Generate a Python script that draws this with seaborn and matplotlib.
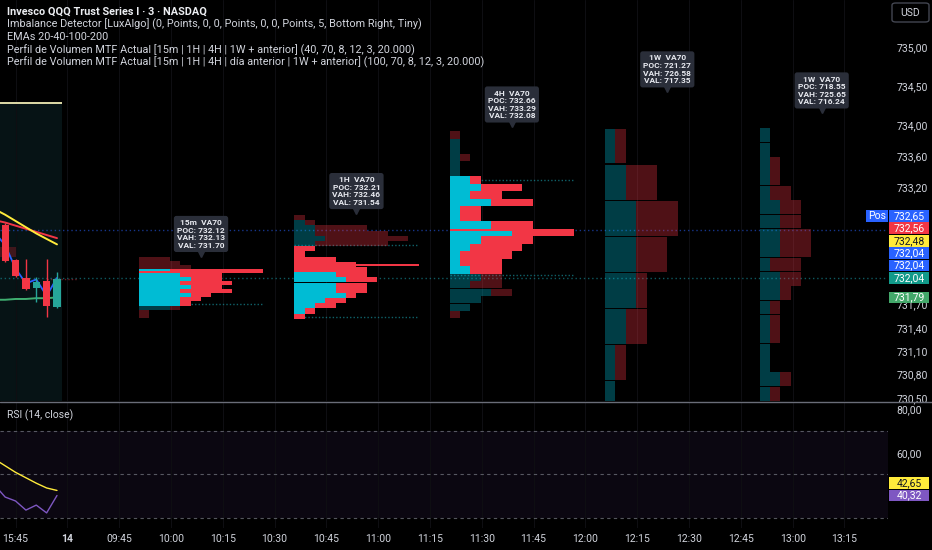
import numpy as np
import pandas as pd
import seaborn as sns
import matplotlib.pyplot as plt
from matplotlib import transforms
from matplotlib.colors import to_rgba
from matplotlib.patches import Rectangle, FancyBboxPatch
from matplotlib.lines import Line2D

# ---- data (bar index: 3m bars, 0 = 09:30 on the 14th) ----
candle_idx = [-6, -5, -4, -3, -2, -1]
c_open = [732.72, 732.27, 732.04, 731.91, 732.00, 731.67]
c_high = [732.74, 732.28, 732.28, 732.05, 732.28, 732.12]
c_low = [732.25, 732.05, 731.89, 731.73, 731.54, 731.65]
c_close = [732.26, 732.06, 731.90, 731.99, 731.68, 732.03]

ema_idx = [-7, -6, -5, -4, -3, -2, -1]
ema_yellow = [732.92, 732.85, 732.77, 732.69, 732.61, 732.54, 732.47]
ema_red = [732.78, 732.75, 732.71, 732.67, 732.63, 732.59, 732.55]
ema_blue = [732.62, 732.46, 732.16, 731.97, 732.02, 731.81, 732.04]
ema_green = [731.76, 731.76, 731.77, 731.77, 731.78, 731.78, 731.79]

rsi_idx = [-7, -6, -5, -4, -3, -2, -1]
rsi_vals = [45.0, 39.6, 37.8, 33.6, 35.9, 32.3, 40.32]
rsi_ma = [57.0, 54.0, 51.0, 48.5, 46.0, 43.8, 42.65]

prof_tf = ['15m', '1H', '4H', '1W', '1W']
prof_base = [6.9, 21.9, 36.9, 51.9, 66.8]
prof_top = [732.31, 732.846, 733.92, 733.96, 733.96]
prof_step = [0.052, 0.0665, 0.096, 0.462, 0.184]
prof_poc = [732.12, 732.21, 732.66, 721.27, 718.55]
prof_vah = [732.13, 732.46, 733.29, 726.58, 725.65]
prof_val = [731.70, 731.54, 732.08, 717.35, 716.24]
prof_tip = [732.31, 732.86, 733.97, 734.42, 734.15]
prof_buy = [
    [0, 0, 0, 3, 4, 5, 4, 5, 4, 5, 4, 4, 3, 0, 0],
    [0, 1, 2, 2, 3, 2, 0, 0, 0, 0, 0, 4, 5, 4, 4, 5, 3, 2, 1, 0],
    [0, 1, 1, 1, 1, 1, 2, 3, 2, 4, 1, 1, 4, 6, 3, 2, 1, 1, 2, 3, 2, 4, 3, 2, 0],
    [1, 2, 3, 3, 3, 2, 1, 1],
    [1, 1, 1, 1, 1, 2, 2, 2, 2, 1, 2, 2, 1, 1, 1, 1, 1, 2, 1],
]
prof_sell = [
    [3, 4, 5, 9, 4, 3, 5, 3, 5, 2, 2, 1, 1, 1, 1],
    [1, 1, 5, 7, 8, 7, 2, 1, 4, 6, 7, 3, 3, 3, 3, 1, 2, 2, 1, 1],
    [1, 0, 0, 1, 0, 0, 1, 4, 3, 4, 2, 2, 4, 6, 5, 5, 5, 4, 3, 2, 3, 2, 0, 0, 1],
    [1, 3, 4, 3, 1, 2, 1, 0],
    [0, 0, 1, 1, 2, 2, 2, 3, 3, 3, 2, 1, 1, 1, 1, 0, 0, 1, 1],
]
profile_width = 12

price_ticks = [735.0, 734.5, 734.0, 733.6, 733.2, 731.7, 731.4, 731.1, 730.8, 730.5]
time_pos = [-5, 0, 5, 10, 15, 20, 25, 30, 35, 40, 45, 50, 55, 60, 65, 70, 75]
time_lbl = ['15:45', '14', '09:45', '10:00', '10:15', '10:30', '10:45', '11:00', '11:15',
            '11:30', '11:45', '12:00', '12:15', '12:30', '12:45', '13:00', '13:15']

# right scale labels, bottom to top
scale_vals = [731.79, 732.04, 732.04, 732.04, 732.48, 732.56, 732.65]
scale_cols = ['#43a86a', '#129a8a', '#2962ff', '#2962ff', '#ffeb3b', '#f23645', '#2962ff']
rsi_lbl_vals = [40.32, 42.65]
rsi_lbl_cols = ['#7e57c2', '#ffeb3b']

pos_price = 732.65
last_line = 732.04
session_high = 734.28
imb_box = (-8, -4.95, 732.31, 732.44)
imb_line = (-2, 1, 732.03)

titles = [
    'Invesco QQQ Trust Series I · 3 · NASDAQ',
    'Imbalance Detector [LuxAlgo] (0, Points, 0, 0, Points, 0, 0, Points, 5, Bottom Right, Tiny)',
    'EMAs 20-40-100-200',
    'Perfil de Volumen MTF Actual [15m | 1H | 4H | 1W + anterior] (40, 70, 8, 12, 3, 20.000)',
    'Perfil de Volumen MTF Actual [15m | 1H | 4H | día anterior | 1W + anterior] (100, 70, 8, 12, 3, 20.000)',
]

# ---- style ----
sns.set_theme(style='dark', rc={'axes.facecolor': '#000000', 'figure.facecolor': '#000000',
                                'savefig.facecolor': '#000000'})
plt.rcParams['font.family'] = ['Roboto', 'DejaVu Sans']
TXT = '#d1d4dc'
CYAN = '#00bcd4'
RED = '#f23645'
TEAL = '#26a69a'
FS = 7.5

W, H = 932, 550
fig = plt.figure(figsize=(W / 100, H / 100), dpi=100)
ax = fig.add_axes([0, (H - 401) / H, 888 / W, 401 / H])
rx = fig.add_axes([0, (H - 528) / H, 888 / W, 126 / H])

xmin, xmax = -6.5, 79.2
ymin, ymax = 730.462, 735.603
ax.set_xlim(xmin, xmax)
ax.set_ylim(ymin, ymax)
rx.set_xlim(xmin, xmax)
rx.set_ylim(25.35, 83.4)

for a in (ax, rx):
    for s in a.spines.values():
        s.set_visible(False)
    a.set_xticks(time_pos)
    a.grid(axis='x', color='#0e0e12', lw=0.8)
    a.grid(axis='y', visible=False)
    a.yaxis.tick_right()
    a.tick_params(axis='y', colors=TXT, labelsize=FS, length=0, pad=6)
    a.tick_params(axis='x', length=0)
ax.tick_params(axis='x', labelbottom=False)
ax.set_yticks(price_ticks)
ax.set_yticklabels([f'{v:.2f}'.replace('.', ',') for v in price_ticks])

# session background + high line
ax.fill_between([xmin - 5, -0.5], ymin, session_high, color='#061315', zorder=0, lw=0)
ax.hlines(session_high, xmin - 5, -0.5, color='#f0ecb4', lw=1.3, zorder=3)

# global dotted lines
ax.axhline(pos_price, color='#2962ff', alpha=0.55, lw=1, ls=(0, (1, 2)), zorder=1)
ax.axhline(last_line, color='#1aa3b0', alpha=0.55, lw=1, ls=(0, (1, 2)), zorder=1)

# imbalance marks
ax.add_patch(Rectangle((imb_box[0], imb_box[2]), imb_box[1] - imb_box[0], imb_box[3] - imb_box[2],
                       color='#5a1a20', alpha=0.7, lw=0, zorder=1))
ax.hlines(imb_line[2], imb_line[0], imb_line[1], color='#6a1c24', lw=1, ls=(0, (1, 1.5)), zorder=1)

# EMAs
sns.lineplot(x=ema_idx, y=ema_green, ax=ax, color='#3fae70', lw=1.4, zorder=4)
sns.lineplot(x=ema_idx, y=ema_red, ax=ax, color='#f23645', lw=1.4, zorder=4)
sns.lineplot(x=ema_idx, y=ema_yellow, ax=ax, color='#ffeb3b', lw=1.4, zorder=4)
sns.lineplot(x=ema_idx, y=ema_blue, ax=ax, color='#2962ff', lw=1.3, zorder=4)

# candles
up = np.array(c_close) >= np.array(c_open)
ccol = [TEAL if u else RED for u in up]
ax.vlines(candle_idx, c_low, c_high, colors=ccol, lw=1, zorder=5)
ax.bar(candle_idx, np.array(c_close) - np.array(c_open), bottom=c_open, width=0.7,
       color=ccol, lw=0, zorder=5)

# volume profiles
for p in range(len(prof_tf)):
    buy = np.array(prof_buy[p], float)
    sell = np.array(prof_sell[p], float)
    step = prof_step[p]
    cen = prof_top[p] - (np.arange(len(buy)) + 0.5) * step
    tol = step / 4
    inva = (cen >= prof_val[p] - tol) & (cen <= prof_vah[p] + tol)
    alpha = np.where(inva, 1.0, 0.33)
    bcol = [to_rgba(CYAN, a_) for a_ in alpha]
    scol = [to_rgba(RED, a_) for a_ in alpha]
    base = prof_base[p]
    bh = step * (0.96 if step > 0.15 else 0.99)
    for lvl in (prof_vah[p], prof_val[p]):
        if ymin < lvl < ymax:
            ax.hlines(lvl, base, base + profile_width, color='#1aa3b0', alpha=0.6, lw=1,
                      ls=(0, (1, 1.5)), zorder=1)
    ax.barh(cen, buy, left=base, height=bh, color=bcol, lw=0, zorder=2)
    ax.barh(cen, sell, left=base + buy, height=bh, color=scol, lw=0, zorder=2)
    if cen[-1] < prof_poc[p] < cen[0]:
        ax.barh(prof_poc[p], profile_width, left=base, height=0.025, color=RED, lw=0, zorder=2)

    xc = base + 6
    txt = (f'{prof_tf[p]}  VA70\nPOC: {prof_poc[p]:.2f}\n'
           f'VAH: {prof_vah[p]:.2f}\nVAL: {prof_val[p]:.2f}')
    ax.annotate(txt, xy=(xc, prof_tip[p]), xytext=(0, 8), textcoords='offset pixels',
                ha='center', va='bottom', fontsize=6, color='#e8eaf0', fontweight='bold',
                linespacing=1.1, zorder=7,
                bbox=dict(boxstyle='round,pad=0.38,rounding_size=0.3', fc='#2a2e39', ec='none'))
    tri = transforms.offset_copy(ax.transData, fig=fig, x=0, y=3, units='dots')
    ax.plot(xc, prof_tip[p], marker='v', ms=5, color='#2a2e39', transform=tri, zorder=7)


# right-scale value boxes (stacked upwards)
def scale_boxes(a, vals, cols, px_per_unit):
    h = 12.4 / px_per_unit
    prev = None
    for v, c in zip(vals, cols):
        y = v if prev is None else max(v, prev + h)
        prev = y
        a.add_patch(Rectangle((1.0012, y - h * 0.47), 40 / 888, h * 0.94, color=c, lw=0,
                              transform=a.get_yaxis_transform(), clip_on=False, zorder=8))
        tc = '#131722' if c == '#ffeb3b' else '#ffffff'
        a.text(1.0012 + 20 / 888, y, f'{v:.2f}'.replace('.', ','), color=tc, fontsize=FS,
               ha='center', va='center', transform=a.get_yaxis_transform(), clip_on=False, zorder=9)
    return prev


top_y = scale_boxes(ax, scale_vals, scale_cols, 401 / (ymax - ymin))
hb = 12.4 / (401 / (ymax - ymin))
ax.add_patch(Rectangle((866 / 888, top_y - hb * 0.47), 22 / 888, hb * 0.94, color='#2962ff', lw=0,
                       transform=ax.get_yaxis_transform(), clip_on=False, zorder=8))
ax.text(877 / 888, top_y, 'Pos', color='#ffffff', fontsize=FS, ha='center', va='center',
        transform=ax.get_yaxis_transform(), zorder=9)

# RSI pane
rx.axhspan(30, 70, color='#7e57c2', alpha=0.09, lw=0, zorder=0)
for lvl in (70, 50, 30):
    rx.axhline(lvl, color='#787b86', alpha=0.7, lw=0.8, ls=(0, (3, 3)), zorder=1)
sns.lineplot(x=rsi_idx, y=rsi_vals, ax=rx, color='#7e57c2', lw=1, zorder=3)
sns.lineplot(x=rsi_idx, y=rsi_ma, ax=rx, color='#ffeb3b', lw=1, zorder=3)
rx.set_yticks([80, 60])
rx.set_yticklabels(['80,00', '60,00'])
rx.set_xticks(time_pos)
rx.set_xticklabels(time_lbl)
rx.tick_params(axis='x', colors=TXT, labelsize=FS, pad=4)
for t in rx.get_xticklabels():
    if t.get_text() == '14':
        t.set_fontweight('bold')
scale_boxes(rx, rsi_lbl_vals, rsi_lbl_cols, 126 / (83.4 - 25.35))
for a in (ax, rx):
    a.set_xlabel('')
    a.set_ylabel('')

# separator, headers, USD button
fig.add_artist(Line2D([0, 1], [(H - 401.5) / H] * 2, transform=fig.transFigure, color='#6a6d78', lw=1))
for k, t in enumerate(titles):
    fig.text(7 / W, 1 - (12 + 12.6 * k) / H, t, color='#eceef2' if k == 0 else TXT, fontsize=7.8,
             fontweight='bold' if k == 0 else 'normal', va='center', ha='left')
fig.text(7 / W, 1 - 415 / H, 'RSI (14, close)', color=TXT, fontsize=FS, va='center')
fig.add_artist(FancyBboxPatch((892 / W, 1 - 22 / H), 37 / W, 19 / H,
                              boxstyle='round,pad=0,rounding_size=0.004', transform=fig.transFigure,
                              fc='#000000', ec='#434651', lw=1))
fig.text(910.5 / W, 1 - 12.5 / H, 'USD', color=TXT, fontsize=FS, ha='center', va='center')

fig.savefig('out.png', dpi=100)
